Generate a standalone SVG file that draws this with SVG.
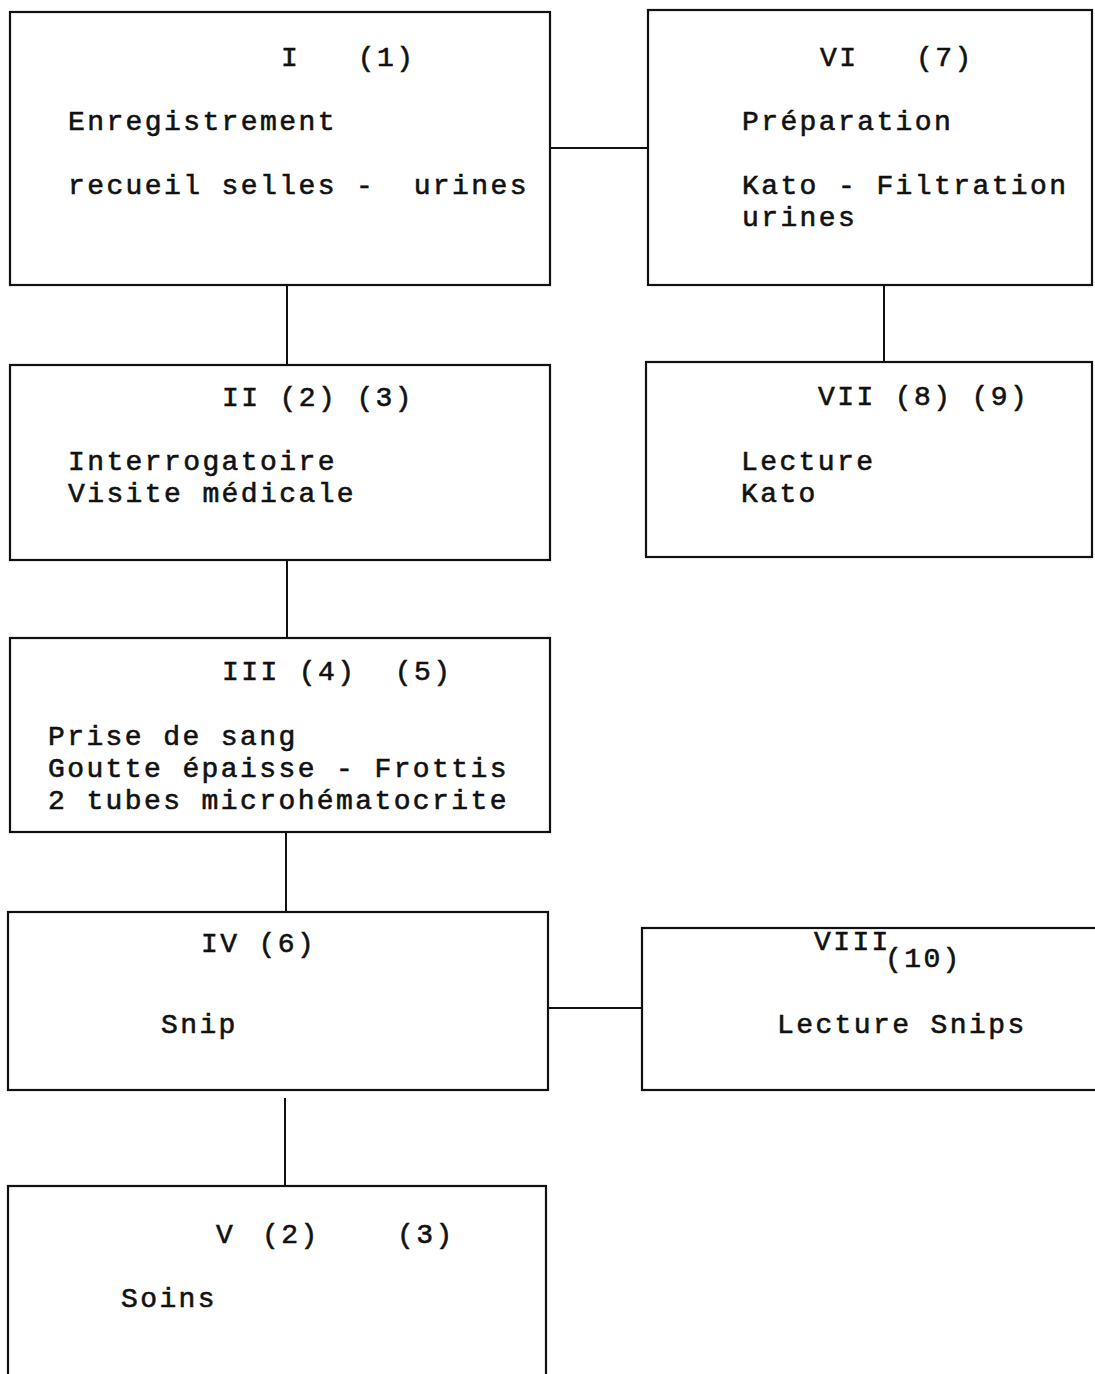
<svg xmlns="http://www.w3.org/2000/svg" width="1095" height="1374" viewBox="0 0 1095 1374">
<style>
.box{fill:none;stroke:#111;stroke-width:2.2}
.con{fill:none;stroke:#111;stroke-width:2}
text{font-family:"Liberation Mono","Courier New",monospace;font-size:28px;letter-spacing:2.4px;fill:#111;stroke:#111;stroke-width:0.6;white-space:pre}
</style>
<rect width="1095" height="1374" fill="#fff"/>
<g id="connectors">
<line class="con" x1="550" y1="148" x2="648" y2="148"/>
<line class="con" x1="287" y1="285" x2="287" y2="365"/>
<line class="con" x1="884" y1="285" x2="884" y2="362"/>
<line class="con" x1="287" y1="560" x2="287" y2="638" stroke-width="1.4"/>
<line class="con" x1="286" y1="832" x2="286" y2="912"/>
<line class="con" x1="548" y1="1008" x2="642" y2="1008"/>
<line class="con" x1="285" y1="1098" x2="285" y2="1186"/>
</g>
<g id="node-I">
<rect class="box" x="10" y="12" width="540" height="273"/>
<text x="281" y="66">I   (1)</text>
<text x="68" y="130">Enregistrement</text>
<text x="68" y="194">recueil selles -  urines</text>
</g>
<g id="node-VI">
<rect class="box" x="648" y="10" width="444" height="275"/>
<text x="820" y="66">VI   (7)</text>
<text x="742" y="130">Préparation</text>
<text x="742" y="194">Kato - Filtration<tspan x="742" dy="32">urines</tspan></text>
</g>
<g id="node-II">
<rect class="box" x="10" y="365" width="540" height="195"/>
<text x="222" y="406">II (2) (3)</text>
<text x="68" y="470">Interrogatoire<tspan x="68" dy="32">Visite médicale</tspan></text>
</g>
<g id="node-VII">
<rect class="box" x="646" y="362" width="446" height="195"/>
<text x="818" y="405">VII (8) (9)</text>
<text x="741" y="470">Lecture<tspan x="741" dy="32">Kato</tspan></text>
</g>
<g id="node-III">
<rect class="box" x="10" y="638" width="540" height="194"/>
<text x="222" y="680">III (4)  (5)</text>
<text x="48" y="745">Prise de sang<tspan x="48" dy="32">Goutte épaisse - Frottis</tspan><tspan x="48" dy="32">2 tubes microhématocrite</tspan></text>
</g>
<g id="node-IV">
<rect class="box" x="8" y="912" width="540" height="178"/>
<text x="201" y="952">IV (6)</text>
<text x="161" y="1033">Snip</text>
</g>
<g id="node-VIII">
<rect class="box" x="642" y="928" width="460" height="162"/>
<text x="814" y="950">VIII<tspan x="885" dy="17">(10)</tspan></text>
<text x="777" y="1033">Lecture Snips</text>
</g>
<g id="node-V">
<rect class="box" x="8" y="1186" width="538" height="200"/>
<text x="216" y="1243">V<tspan x="262">(2)</tspan><tspan x="397">(3)</tspan></text>
<text x="121" y="1307">Soins</text>
</g>
</svg>
